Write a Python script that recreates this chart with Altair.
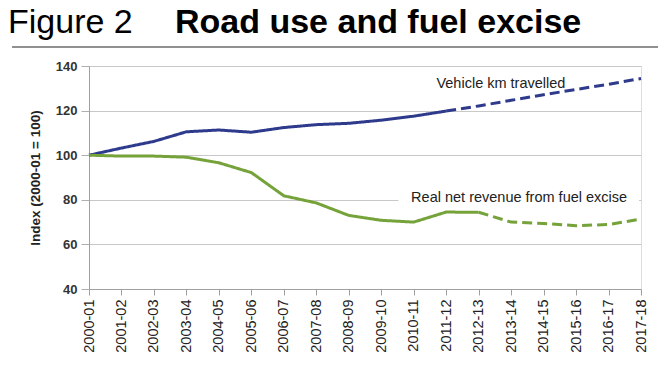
import altair as alt
import pandas as pd

years = ["2000-01", "2001-02", "2002-03", "2003-04", "2004-05", "2005-06",
         "2006-07", "2007-08", "2008-09", "2009-10", "2010-11", "2011-12",
         "2012-13", "2013-14", "2014-15", "2015-16", "2016-17", "2017-18"]
vehicle_km = [100, 103.2, 106.2, 110.5, 111.3, 110.3, 112.4, 113.7, 114.3,
              115.7, 117.5, 119.8, 122.1, 124.6, 127.1, 129.5, 131.8, 134.4]
fuel_rev = [100, 99.6, 99.6, 99.1, 96.6, 92.2, 81.8, 78.6, 73.0, 70.8, 70.0,
            74.5, 74.4, 70.0, 69.4, 68.4, 68.9, 71.4]
vehicle_last_actual = 11   # index of 2011-12
fuel_last_actual = 12      # index of 2012-13

label_vehicle = "Vehicle km travelled"
label_fuel = "Real net revenue from fuel excise"

rows = []
for name, vals, last in [("Vehicle km travelled", vehicle_km, vehicle_last_actual),
                         ("Real net revenue from fuel excise", fuel_rev, fuel_last_actual)]:
    for i, v in enumerate(vals):
        if i <= last:
            rows.append({"series": name, "seg": "actual", "i": i, "v": v})
        if i >= last:
            rows.append({"series": name, "seg": "projected", "i": i, "v": v})
df = pd.DataFrame(rows)

W, H = 552, 223
label_arr = "[" + ",".join("'%s'" % y for y in years) + "]"

x_scale = alt.Scale(domain=[0, 17], nice=False, zero=False)
y_scale = alt.Scale(domain=[40, 140], nice=False, zero=False)

x_axis = alt.Axis(values=list(range(18)), labelExpr=label_arr + "[datum.value]",
                  labelAngle=-90, labelAlign="right", labelBaseline="middle",
                  labelFont="Liberation Sans", labelFontSize=14.5, labelColor="#222222",
                  labelPadding=4, tickSize=6, tickColor="#a0a0a0", domainColor="#a0a0a0",
                  grid=False, title=None, labelOverlap=False, labelFlush=False)
y_axis = alt.Axis(values=[40, 60, 80, 100, 120, 140], labelFont="Liberation Sans",
                  labelFontSize=13, labelFontWeight="bold", labelColor="#333333",
                  labelPadding=4, tickSize=8, tickColor="#b0b0b0", domainColor="#a0a0a0",
                  gridColor="#c8c8c8", grid=True,
                  title="Index (2000-01 = 100)", titleFont="Liberation Sans",
                  titleFontSize=13.5, titleFontWeight="bold", titleColor="#222222",
                  titleX=-54, titleY=H / 2, titleAngle=-90, titleAlign="center",
                  titleBaseline="middle")

X = lambda f: alt.X(f, scale=x_scale, axis=x_axis)
Y = lambda f: alt.Y(f, scale=y_scale, axis=y_axis)

lines = alt.Chart(df).mark_line(strokeWidth=3).encode(
    x=X("i:Q"),
    y=Y("v:Q"),
    color=alt.Color("series:N", scale=alt.Scale(
        domain=["Vehicle km travelled", "Real net revenue from fuel excise"],
        range=["#2E3A8C", "#76A23A"]), legend=None),
    strokeDash=alt.StrokeDash("seg:N", scale=alt.Scale(
        domain=["actual", "projected"], range=[[1, 0], [10, 5]]), legend=None),
    detail="seg:N",
)

box = pd.DataFrame({"x1": [9.53], "x2": [16.94], "y1": [77.3], "y2": [84.3]})
bg = alt.Chart(box).mark_rect(color="white").encode(
    x=X("x1:Q"), x2="x2", y=Y("y1:Q"), y2="y2")

ann = pd.DataFrame({"i": [10.7, 9.92], "v": [132.0, 80.8], "t": [label_vehicle, label_fuel]})
texts = alt.Chart(ann).mark_text(align="left", baseline="middle", font="Liberation Sans",
                                 fontSize=14.5, color="#222222").encode(
    x=X("i:Q"), y=Y("v:Q"), text="t:N")

one = pd.DataFrame({"a": [0]})
t1 = alt.Chart(one).mark_text(align="left", baseline="alphabetic", font="Liberation Sans",
                              fontSize=34, color="#000000").encode(
    x=alt.value(-81), y=alt.value(-33), text=alt.value("Figure 2"))
t2 = alt.Chart(one).mark_text(align="left", baseline="alphabetic", font="Liberation Sans",
                              fontSize=34, fontWeight="bold", color="#000000").encode(
    x=alt.value(86), y=alt.value(-33), text=alt.value("Road use and fuel excise"))
hr = alt.Chart(one).mark_rule(color="#222222", strokeWidth=1.2).encode(
    x=alt.value(-77), x2=alt.value(577), y=alt.value(-19))

chart = alt.layer(bg, lines, texts, t1, t2, hr).properties(
    width=W, height=H,
    autosize=alt.AutoSizeParams(type="none"),
    padding={"left": 81, "top": 58, "right": 17, "bottom": 70},
).configure_view(stroke="#a8a8a8", strokeWidth=1).configure(background="white")

chart.save("out.html", embed_options={"renderer": "svg", "actions": False})
